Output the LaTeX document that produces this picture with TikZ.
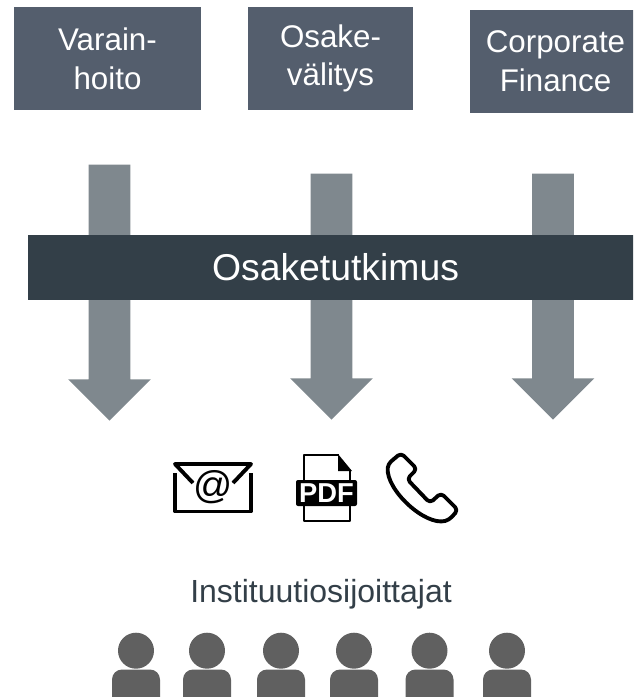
\documentclass[tikz,border=0pt]{standalone}
\usepackage{fontspec}
\setmainfont{Liberation Sans}
\usetikzlibrary{positioning,arrows.meta,shapes.arrows}

\definecolor{boxfill}{HTML}{545E6D}
\definecolor{bandfill}{HTML}{333F48}
\definecolor{arrowfill}{HTML}{7F888E}
\definecolor{personfill}{HTML}{606060}

\begin{document}
\begin{tikzpicture}[
      x=0.75pt,
      y=-0.75pt,
      unitbox/.style={
        fill=boxfill,
        text=white,
        minimum height=77.25pt,
        inner sep=0pt,
        align=center,
        font=\fontsize{23.5}{29}\selectfont
      },
      downarrow/.style={
        single arrow,
        fill=arrowfill,
        shape border rotate=270,
        anchor=tip,
        inner sep=0pt,
        text width=30.75pt,
        single arrow head extend=15.4pt,
        single arrow tip angle=90
      },
      personhead/.style={circle, fill=personfill, inner sep=0pt, minimum size=27pt},
      personbody/.style={
        rectangle,
        fill=personfill,
        rounded corners=7.5pt,
        inner sep=0pt,
        minimum width=36pt,
        minimum height=30pt
      },
      iconline/.style={line width=2.9pt, line join=round}
    ]
    \useasboundingbox (0,0) rectangle (633,697);
    \clip (0,0) rectangle (633,697);

    % Row 1
    \node (box1) [unitbox, minimum width=140.25pt] at (107.5,58.5) {Varain-\\hoito};
    \node (box2) [unitbox, minimum width=123.75pt] at (330.5,58.5) {Osake-\\välitys};
    \node (box3) [unitbox, minimum width=128.25pt] at (555.5,61.5) {Corporate\\Finance};

    % Arrows
    \node (arrow1) [downarrow, minimum height=192pt] at (109.5,421) {};
    \node (arrow2) [downarrow, minimum height=184.5pt] at (331.5,420) {};
    \node (arrow3) [downarrow, minimum height=184.5pt] at (553,420) {};

    % Band
    \node (band) [fill=bandfill, text=white, inner sep=0pt, minimum width=461.25pt,
      minimum height=48.75pt, font=\fontsize{28}{32}\selectfont] at (335.5,267.5) {Osaketutkimus};

    % Envelope
    \draw[iconline] (175,473) -- (175,511.5) -- (251,511.5) -- (251,473);
    \draw[iconline] (193,483) -- (175,464) -- (251,464) -- (233,483);
    \node (mail) [inner sep=0pt, font=\fontsize{29}{29}\selectfont] at (213,487) {@};

    % Document
    \draw[line width=2.1pt, line join=round] (339,455) -- (304,455) -- (304,521) -- (350,521) -- (350,471);
    \fill (338,454) -- (352,471) -- (338,471) -- cycle;
    \node (pdf) [fill=black, text=white, rounded corners=1.5pt, inner sep=0pt,
      minimum width=45.75pt, minimum height=19.5pt,
      font=\fontsize{20.5}{21}\selectfont\bfseries] at (326.5,493) {PDF};

    % Phone
    \draw[iconline, rounded corners=3pt] (401,453) -- (417,469) -- (407,479) -- (430,503)
      -- (441,493) -- (458,510) -- (449,520)
      .. controls (425,526) and (386,490) .. (388,464) -- cycle;

    % Row 3
    \node (investors) [text=bandfill, inner sep=0pt, font=\fontsize{24}{28}\selectfont] at (321,594) {Instituutiosijoittajat};

    % People
    \foreach \x [count=\i] in {136,207,281,354,429.5,507} {
      \node (head\i) [personhead] at (\x,650.7) {};
      \node (body\i) [personbody] at (\x,689.5) {};
    }
\end{tikzpicture}
\end{document}
